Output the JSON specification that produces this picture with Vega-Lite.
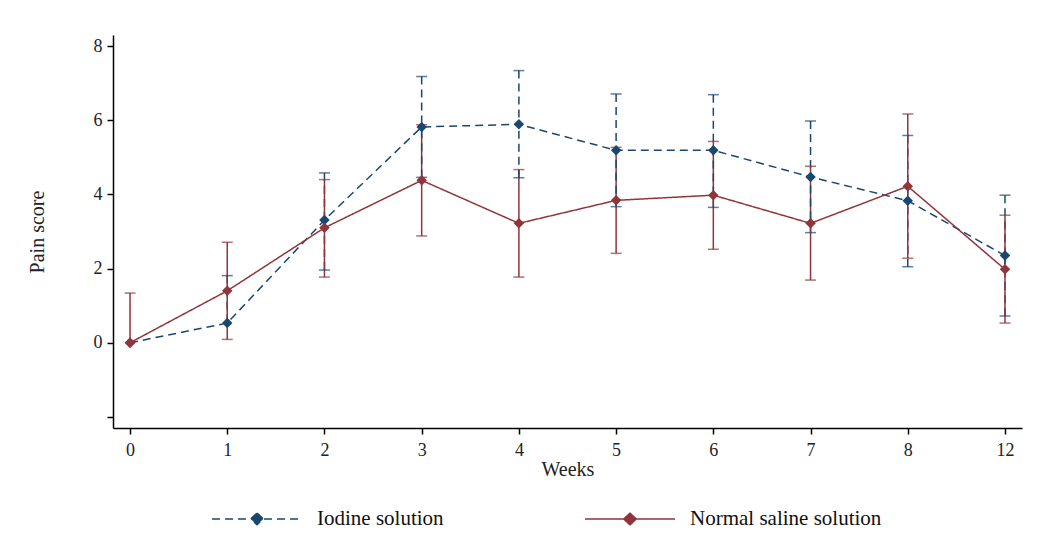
{
  "$schema": "https://vega.github.io/schema/vega-lite/v6.json",
  "width": 909,
  "height": 393,
  "autosize": {"type": "none"},
  "padding": {"left": 113, "top": 35, "right": 24, "bottom": 125},
  "background": "white",
  "config": {
    "view": {"stroke": null},
    "font": "Liberation Serif",
    "legend": {"labelFont": "Liberation Serif", "labelFontSize": 21},
    "axis": {
      "grid": false,
      "domainColor": "#000000",
      "domainWidth": 1.5,
      "tickColor": "#000000",
      "tickWidth": 1.5,
      "tickSize": 6,
      "labelFont": "Liberation Serif",
      "labelFontSize": 18,
      "labelColor": "#222222",
      "titleFont": "Liberation Serif",
      "titleFontSize": 20,
      "titleFontWeight": "normal",
      "titleColor": "#222222"
    }
  },
  "data": {
    "values": [
      {"week": "0", "group": "Iodine solution", "mean": 0, "lo": null, "hi": null},
      {"week": "1", "group": "Iodine solution", "mean": 0.53, "lo": null, "hi": 1.81},
      {"week": "2", "group": "Iodine solution", "mean": 3.31, "lo": 1.96, "hi": 4.58},
      {"week": "3", "group": "Iodine solution", "mean": 5.82, "lo": 4.46, "hi": 7.18},
      {"week": "4", "group": "Iodine solution", "mean": 5.89, "lo": 4.45, "hi": 7.34},
      {"week": "5", "group": "Iodine solution", "mean": 5.19, "lo": 3.67, "hi": 6.71},
      {"week": "6", "group": "Iodine solution", "mean": 5.19, "lo": 3.65, "hi": 6.69},
      {"week": "7", "group": "Iodine solution", "mean": 4.47, "lo": 2.97, "hi": 5.98},
      {"week": "8", "group": "Iodine solution", "mean": 3.83, "lo": 2.05, "hi": 5.59},
      {"week": "12", "group": "Iodine solution", "mean": 2.35, "lo": 0.72, "hi": 3.98},
      {"week": "0", "group": "Normal saline solution", "mean": 0, "lo": null, "hi": 1.34},
      {"week": "1", "group": "Normal saline solution", "mean": 1.4, "lo": 0.09, "hi": 2.71},
      {"week": "2", "group": "Normal saline solution", "mean": 3.1, "lo": 1.77, "hi": 4.4},
      {"week": "3", "group": "Normal saline solution", "mean": 4.38, "lo": 2.88, "hi": 5.88},
      {"week": "4", "group": "Normal saline solution", "mean": 3.22, "lo": 1.77, "hi": 4.67},
      {"week": "5", "group": "Normal saline solution", "mean": 3.84, "lo": 2.41, "hi": 5.27},
      {"week": "6", "group": "Normal saline solution", "mean": 3.98, "lo": 2.52, "hi": 5.43},
      {"week": "7", "group": "Normal saline solution", "mean": 3.22, "lo": 1.69, "hi": 4.76},
      {"week": "8", "group": "Normal saline solution", "mean": 4.22, "lo": 2.28, "hi": 6.17},
      {"week": "12", "group": "Normal saline solution", "mean": 1.98, "lo": 0.53, "hi": 3.44}
    ]
  },
  "encoding": {
    "x": {
      "field": "week",
      "type": "ordinal",
      "sort": ["0", "1", "2", "3", "4", "5", "6", "7", "8", "12"],
      "scale": {"type": "point", "padding": 0.175},
      "axis": {"title": "Weeks", "labelAngle": 0, "labelPadding": 7, "titlePadding": 0}
    },
    "color": {
      "field": "group",
      "type": "nominal",
      "scale": {"domain": ["Iodine solution", "Normal saline solution"], "range": ["#1a476f", "#90353b"]},
      "legend": {
        "title": null,
        "orient": "none",
        "direction": "horizontal",
        "legendX": 98,
        "legendY": 438,
        "symbolType": "M-1,0H1M0,-0.13L0.14,0L0,0.13L-0.14,0Z",
        "symbolSize": 8100,
        "symbolStrokeWidth": 1.5,
        "labelFont": "Liberation Serif",
        "labelFontSize": 21,
        "labelColor": "#111111",
        "labelLimit": 500,
        "labelOffset": 14,
        "columnPadding": 138,
        "encode": {
          "symbols": {"update": {"fill": {"scale": "color", "field": "value"}}},
          "labels": {"update": {"font": {"value": "Liberation Serif"}, "fontSize": {"value": 21}}}
        }
      }
    },
    "strokeDash": {
      "field": "group",
      "type": "nominal",
      "scale": {"domain": ["Iodine solution", "Normal saline solution"], "range": [[8, 5], [1, 0]]},
      "legend": null
    }
  },
  "layer": [
    {
      "mark": {"type": "rule", "strokeWidth": 1.5},
      "encoding": {
        "y": {"field": "hi", "type": "quantitative", "scale": {"domain": [-2.3, 8.3], "nice": false, "zero": false},
          "axis": {"title": "Pain score", "values": [-2, 0, 2, 4, 6, 8], "labelExpr": "datum.value < 0 ? '' : datum.label", "titlePadding": 46, "labelPadding": 5}},
        "y2": {"field": "mean"}
      }
    },
    {
      "mark": {"type": "rule", "strokeWidth": 1.5},
      "encoding": {
        "y": {"field": "lo", "type": "quantitative"},
        "y2": {"field": "mean"}
      }
    },
    {
      "mark": {"type": "tick", "size": 11, "thickness": 1.5, "orient": "horizontal"},
      "encoding": {"y": {"field": "hi", "type": "quantitative"}}
    },
    {
      "mark": {"type": "tick", "size": 11, "thickness": 1.5, "orient": "horizontal"},
      "encoding": {"y": {"field": "lo", "type": "quantitative"}}
    },
    {
      "mark": {"type": "line", "strokeWidth": 1.5},
      "encoding": {"y": {"field": "mean", "type": "quantitative"}}
    },
    {
      "mark": {"type": "point", "shape": "diamond", "filled": true, "size": 110, "opacity": 1},
      "encoding": {"y": {"field": "mean", "type": "quantitative"}, "strokeDash": {"value": [1, 0]}}
    }
  ]
}
